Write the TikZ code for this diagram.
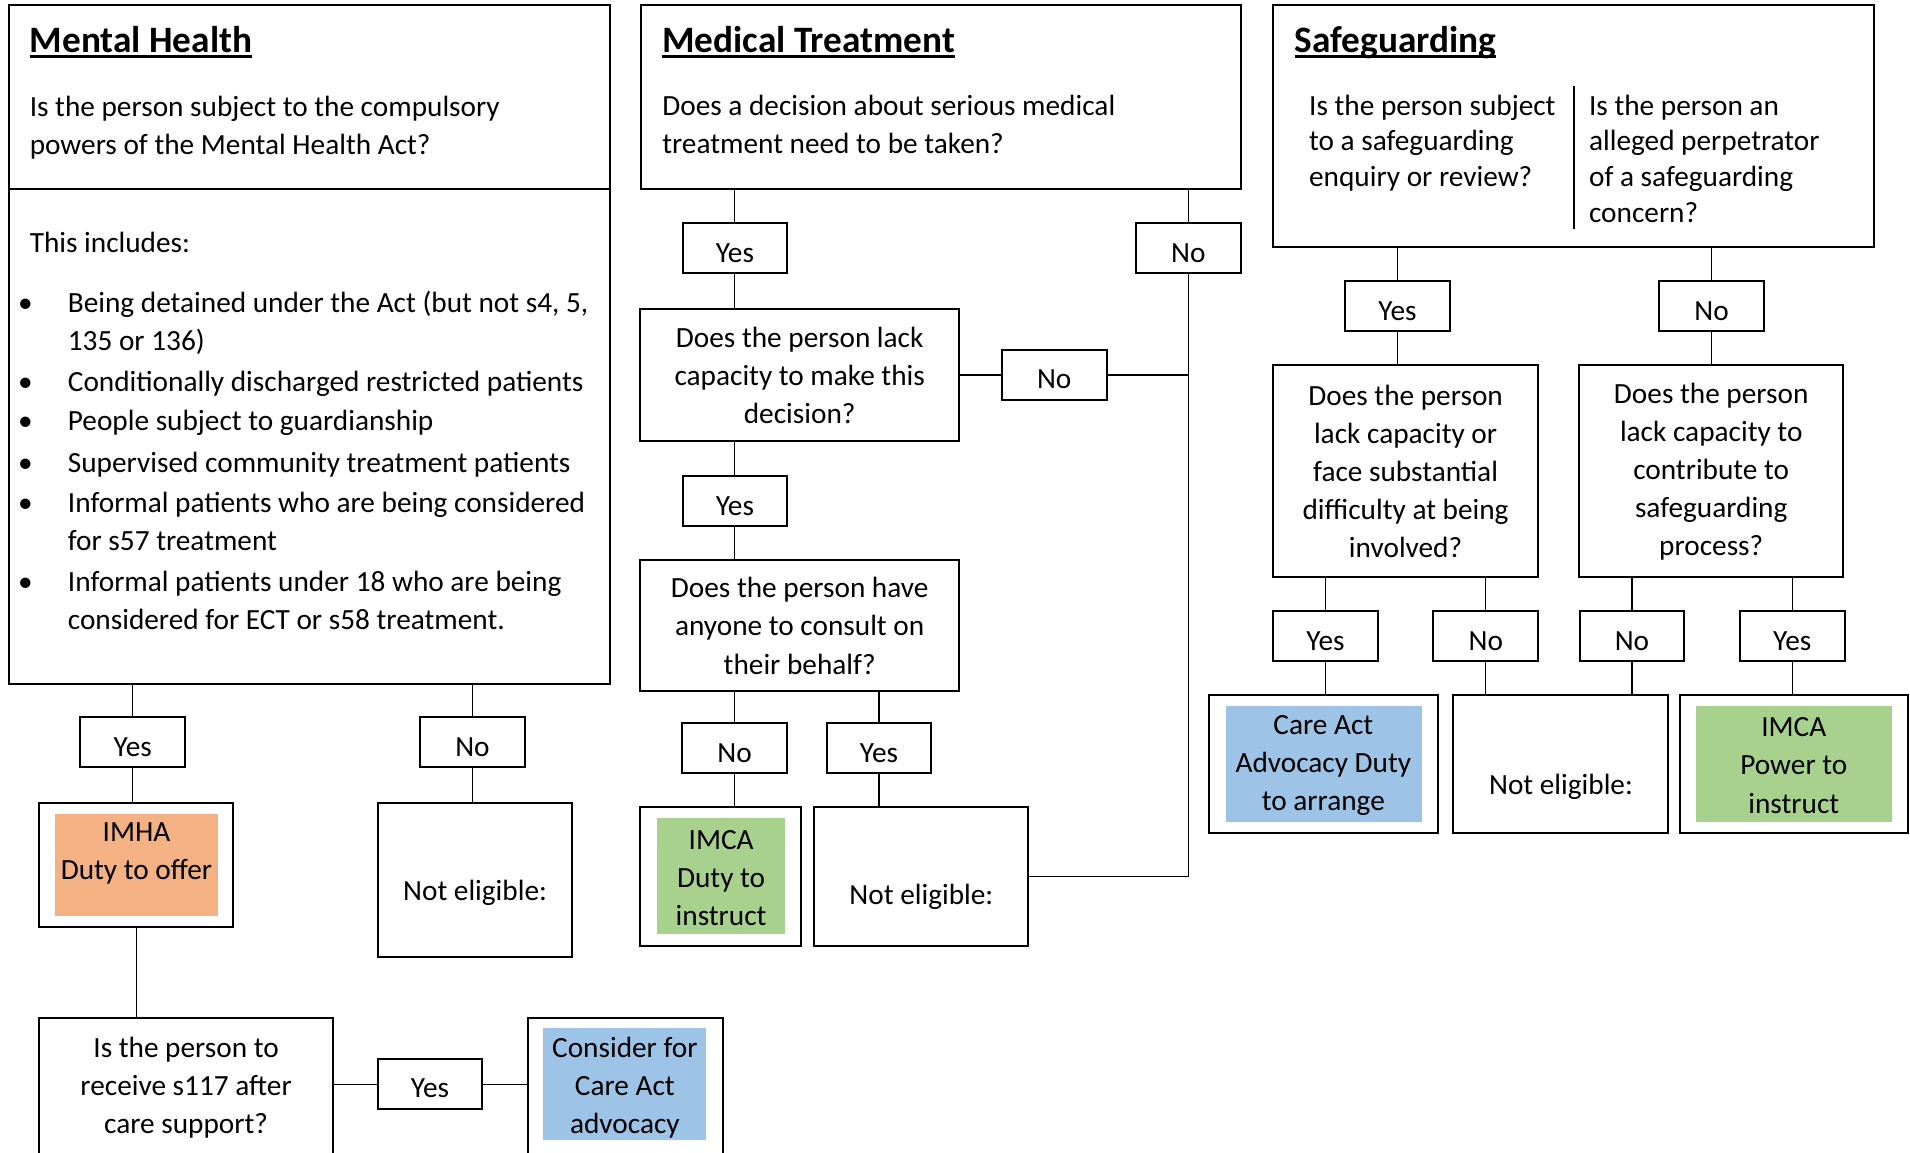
\documentclass[tikz,border=0pt]{standalone}
\usepackage{fontspec}
\setmainfont{Carlito}
\usetikzlibrary{positioning}
\definecolor{imhaorange}{HTML}{F4B183}
\definecolor{careblue}{HTML}{9DC3E6}
\definecolor{imcagreen}{HTML}{A9D18E}
\newlength{\pxu}
\setlength{\pxu}{0.4575pt}
\newcommand{\heading}[1]{{\fontsize{14pt}{17pt}\selectfont\bfseries\setbox0=\hbox{#1}\rlap{\rule[-1.9pt]{\wd0}{1pt}}\box0}}
\tikzset{every node/.style = {font = \fontsize{11pt}{14.3pt}\selectfont}}
\tikzset{box/.style = {draw, line width = 0.75pt, inner sep = 0pt, align = center}}
\tikzset{ans/.style = {box, minimum width = 86\pxu, minimum height = 41\pxu, text height = 14.6pt, text depth = 4.2pt}}
\tikzset{fillbox/.style = {inner sep = 0pt}}
\tikzset{para/.style = {anchor = base west, align = flush left, inner sep = 0pt}}
\tikzset{sgfont/.style = {font = \fontsize{11pt}{13.4pt}\selectfont}}
\tikzset{txt/.style = {align = center, inner sep = 0pt}}
\tikzset{dot/.style = {anchor = base, inner sep = 0pt}}
\tikzset{link/.style = {line width = 0.45pt}}

\begin{document}
\begin{tikzpicture}[x = 0.4575pt, y = -0.4575pt]
	\useasboundingbox (0,0) rectangle (1568,946);
	\clip (0,0) rectangle (1568,946);

	% Mental Health
	\node [box, minimum width = 493\pxu, minimum height = 557\pxu] (mh) at (254,283) {};
	\draw [line width = 0.75pt] (mh.west |- 0,155) -- (mh.east |- 0,155);
	\node [para] (mhtitle) at (24,43.3) {\heading{Mental Health}};
	\node [para, text width = 470\pxu] (mhq) at (24,95.8) {Is the person subject to the compulsory\\powers of the Mental Health Act?};
	\node [para] (mhinc) at (24,207) {This includes:};

	\node [dot] (b1) at (20.8,256.6) {\textbullet};
	\node [dot] (b2) at (20.8,321.8) {\textbullet};
	\node [dot] (b3) at (20.8,353.7) {\textbullet};
	\node [dot] (b4) at (20.8,387.8) {\textbullet};
	\node [dot] (b5) at (20.8,420.8) {\textbullet};
	\node [dot] (b6) at (20.8,485.7) {\textbullet};
	\node [para, text width = 445\pxu] (i1) at (55.3,256.6) {Being detained under the Act (but not s4, 5,\\135 or 136)};
	\node [para, text width = 445\pxu] (i2) at (55.3,321.8) {Conditionally discharged restricted patients};
	\node [para, text width = 445\pxu] (i3) at (55.3,353.7) {People subject to guardianship};
	\node [para, text width = 445\pxu] (i4) at (55.3,387.8) {Supervised community treatment patients};
	\node [para, text width = 445\pxu] (i5) at (55.3,420.8) {Informal patients who are being considered\\for s57 treatment};
	\node [para, text width = 445\pxu] (i6) at (55.3,485.7) {Informal patients under 18 who are being\\considered for ECT or s58 treatment.};

	\node [ans] (mhyes) at (109,609.5) {Yes};
	\node [ans, right = 87.5pt of mhyes] (mhno) {No};

	\node [box, minimum width = 159.5\pxu, minimum height = 102\pxu] (imha) at (111.75,710) {};
	\node [fillbox, fill = imhaorange, minimum width = 133.2\pxu, minimum height = 84\pxu] (imhain) at (112,710) {};
	\node [txt] (imhatxt) at (112,701) {IMHA\\Duty to offer};

	\node [box, minimum width = 159.5\pxu, minimum height = 127\pxu] (mhnot) at (390,722.5) {};
	\node [txt] (mhnottxt) at (390,733) {Not eligible:};

	\node [box, minimum width = 242\pxu, minimum height = 114\pxu] (s117) at (152.75,893) {Is the person to\\receive s117 after\\care support?};
	\node [ans] (s117yes) at (353,890) {Yes};
	\node [box, minimum width = 160\pxu, minimum height = 114\pxu] (consider) at (513.6,893) {};
	\node [fillbox, fill = careblue, minimum width = 133.6\pxu, minimum height = 92\pxu] (considerin) at (512.8,890) {};
	\node [txt] (considertxt) at (513,893) {Consider for\\Care Act\\advocacy};

	% Medical Treatment
	\node [box, minimum width = 493\pxu, minimum height = 151\pxu] (mt) at (772.5,79.5) {};
	\node [para] (mttitle) at (543.3,43.3) {\heading{Medical Treatment}};
	\node [para, text width = 470\pxu] (mtq) at (543.3,94.8) {Does a decision about serious medical\\treatment need to be taken?};

	\node [ans] (mtyes) at (603.3,203.8) {Yes};
	\node [ans] (mtno) at (975.6,203.8) {No};

	\node [box, minimum width = 261.7\pxu, minimum height = 107.7\pxu] (lack) at (656.5,307.9) {Does the person lack\\capacity to make this\\decision?};
	\node [ans, right = 15.3pt of lack] (lackno) {No};
	\node [ans] (lackyes) at (603.3,411.6) {Yes};

	\node [box, minimum width = 261.7\pxu, minimum height = 107.7\pxu] (consult) at (656.5,513.8) {Does the person have\\anyone to consult on\\their behalf?};
	\node [ans] (consno) at (603.1,614.2) {No};
	\node [ans, right = 14.1pt of consno] (consyes) {Yes};

	\node [box, minimum width = 132\pxu, minimum height = 114\pxu] (imcamt) at (591.6,719.4) {};
	\node [fillbox, fill = imcagreen, minimum width = 105\pxu, minimum height = 95.2\pxu] (imcamtin) at (591.75,719.2) {};
	\node [txt] (imcamttxt) at (592,721) {IMCA\\Duty to\\instruct};

	\node [box, minimum width = 175.5\pxu, minimum height = 114\pxu, right = 4.3pt of imcamt] (mtnot) {};
	\node [txt] (mtnottxt) at (756.4,736.5) {Not eligible:};

	% Safeguarding
	\node [box, minimum width = 493\pxu, minimum height = 198.3\pxu] (sg) at (1291.9,103.55) {};
	\draw [line width = 0.75pt] (sg.north |- 0,70.7) -- (sg.north |- 0,188);
	\node [para] (sgtitle) at (1062.4,43.3) {\heading{Safeguarding}};
	\node [para, sgfont, text width = 215\pxu] (sgql) at (1074.3,94.6) {Is the person subject\\to a safeguarding\\enquiry or review?};
	\node [para, sgfont, text width = 230\pxu] (sgqr) at (1304.1,94.6) {Is the person an\\alleged perpetrator\\of a safeguarding\\concern?};

	\node [ans] (sgyes) at (1147.2,251.5) {Yes};
	\node [ans, right = 77.9pt of sgyes] (sgno) {No};

	\node [box, minimum width = 216.9\pxu, minimum height = 174.1\pxu] (sgl) at (1153.9,387) {Does the person\\lack capacity or\\face substantial\\difficulty at being\\involved?};
	\node [box, minimum width = 216.9\pxu, minimum height = 174.1\pxu] (sgr) at (1404.8,387) {Does the person\\lack capacity to\\contribute to\\safeguarding\\process?};

	\node [ans] (sglyes) at (1088.2,522.4) {Yes};
	\node [ans, right = 20.1pt of sglyes] (sglno) {No};
	\node [ans, right = 14.8pt of sglno] (sgrno) {No};
	\node [ans, right = 20.1pt of sgrno] (sgryes) {Yes};

	\node [box, minimum width = 187.7\pxu, minimum height = 113.6\pxu] (careact) at (1086.4,627.4) {};
	\node [fillbox, fill = careblue, minimum width = 161\pxu, minimum height = 95\pxu] (careactin) at (1087.1,627.1) {};
	\node [txt] (careacttxt) at (1086.4,628.5) {Care Act\\Advocacy Duty\\to arrange};

	\node [box, minimum width = 176.6\pxu, minimum height = 113.6\pxu, right = 5pt of careact] (sgnot) {};
	\node [txt] (sgnottxt) at (1281.5,646) {Not eligible:};

	\node [box, minimum width = 187.3\pxu, minimum height = 113.6\pxu, right = 3.6pt of sgnot] (imcasg) {};
	\node [fillbox, fill = imcagreen, minimum width = 160.9\pxu, minimum height = 95\pxu] (imcasgin) at (1472.9,627.1) {};
	\node [txt] (imcasgtxt) at (1472.6,628.5) {IMCA\\Power to\\instruct};

	% connectors
	\draw [link] (mhyes) -- (mhyes |- mh.south);
	\draw [link] (mhyes) -- (mhyes |- imha.north);
	\draw [link] (mhno) -- (mhno |- mh.south);
	\draw [link] (mhno) -- (mhno |- mhnot.north);
	\draw [link] (imha) -- (imha |- s117.north);
	\draw [link] (s117yes) -- (s117yes -| s117.east);
	\draw [link] (s117yes) -- (s117yes -| consider.west);

	\draw [link] (mtyes) -- (mtyes |- mt.south);
	\draw [link] (mtyes) -- (mtyes |- lack.north);
	\draw [link] (mtno) -- (mtno |- mt.south);
	\draw [link] (mtno) |- (mtnot);
	\draw [link] (lackno) -- (lack);
	\draw [link] (lackno) -- (lackno -| mtno);
	\draw [link] (lackyes) -- (lackyes |- lack.south);
	\draw [link] (lackyes) -- (lackyes |- consult.north);
	\draw [link] (consno) -- (consno |- consult.south);
	\draw [link] (consno) -- (consno |- imcamt.north);
	\draw [link] (consyes) -- (consyes |- consult.south);
	\draw [link] (consyes) -- (consyes |- mtnot.north);

	\draw [link] (sgyes) -- (sgyes |- sg.south);
	\draw [link] (sgyes) -- (sgyes |- sgl.north);
	\draw [link] (sgno) -- (sgno |- sg.south);
	\draw [link] (sgno) -- (sgno |- sgr.north);
	\draw [link] (sglyes) -- (sglyes |- sgl.south);
	\draw [link] (sglyes) -- (sglyes |- careact.north);
	\draw [link] (sglno) -- (sglno |- sgl.south);
	\draw [link] (sglno) -- (sglno |- sgnot.north);
	\draw [link] (sgrno) -- (sgrno |- sgr.south);
	\draw [link] (sgrno) -- (sgrno |- sgnot.north);
	\draw [link] (sgryes) -- (sgryes |- sgr.south);
	\draw [link] (sgryes) -- (sgryes |- imcasg.north);
\end{tikzpicture}
\end{document}
